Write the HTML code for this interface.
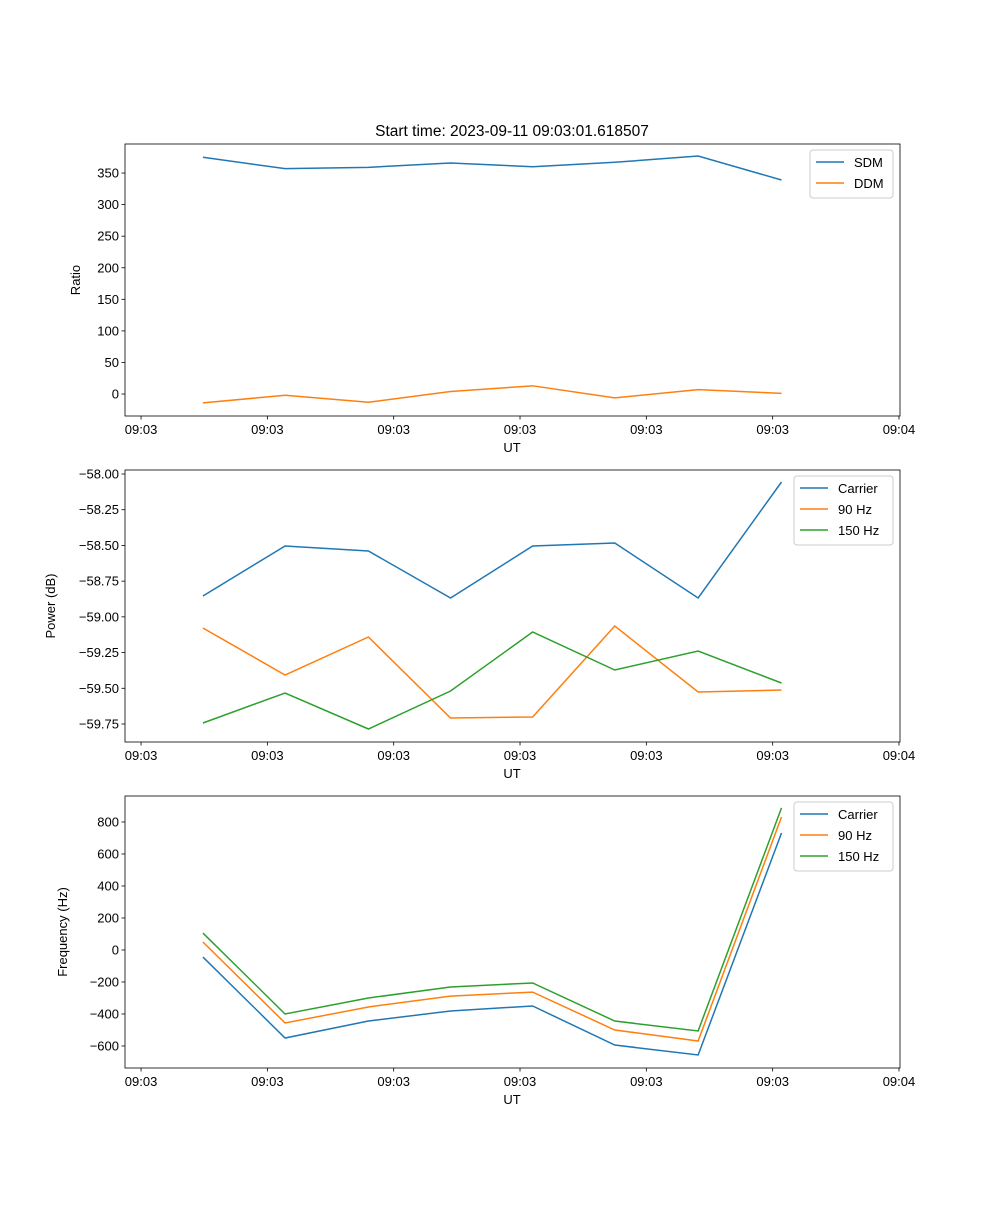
<!DOCTYPE html>
<html><head><meta charset="utf-8"><style>
body{margin:0;background:#fff}
svg text{font-family:"Liberation Sans","DejaVu Sans",sans-serif;font-size:13px;fill:#000}
</style></head><body>
<svg id="fig" width="1000" height="1200" xmlns="http://www.w3.org/2000/svg">
<rect width="1000" height="1200" fill="#fff"/>
<text x="512" y="136" text-anchor="middle" style="font-size:15.5px">Start time: 2023-09-11 09:03:01.618507</text>
</svg>
<script>
const xTickLabels=["09:03","09:03","09:03","09:03","09:03","09:03","09:04"];
const xVals=[0.49,1.14,1.80,2.45,3.10,3.75,4.41,5.07];
const sdm=[375,357,359,366,360,367,377,339];
const ddm=[-14,-2,-13,4,13,-6,7,1];
const pwrCarrier=[-58.854,-58.504,-58.539,-58.868,-58.504,-58.483,-58.868,-58.056];
const pwr90=[-59.078,-59.407,-59.141,-59.708,-59.701,-59.064,-59.526,-59.512];
const pwr150=[-59.743,-59.533,-59.785,-59.519,-59.106,-59.372,-59.239,-59.463];
const frqCarrier=[-44,-550,-444,-381,-350,-594,-656,731];
const frq90=[50,-456,-356,-288,-263,-500,-569,831];
const frq150=[106,-400,-300,-231,-206,-444,-506,888];
const yTicks1=[0,50,100,150,200,250,300,350];
const yTicks2=[-59.75,-59.5,-59.25,-59,-58.75,-58.5,-58.25,-58];
const yTicks3=[-600,-400,-200,0,200,400,600,800];

const NS="http://www.w3.org/2000/svg";
const svg=document.getElementById('fig');
const C=['#1f77b4','#ff7f0e','#2ca02c'];
function mk(tag,attrs,parent){const e=document.createElementNS(NS,tag);for(const k in attrs)e.setAttribute(k,attrs[k]);(parent||svg).appendChild(e);return e;}
const L=125,R=900;
const xMin=-0.127,xMax=6.008;
function xs(v){return L+(v-xMin)/(xMax-xMin)*(R-L);}
function panel(name,top,bot,yMin,yMax,yTicks,fmt,ylabel,ylabelX,series,names,legend){
  const g=mk('g',{});
  
  
  const ys=v=>bot-(v-yMin)/(yMax-yMin)*(bot-top);
  series.forEach((s,i)=>{
    const p=mk('polyline',{points:s.map((v,j)=>xs(xVals[j])+','+ys(v)).join(' '),fill:'none',stroke:C[i],'stroke-width':1.5},g);
    
    
  });
  mk('rect',{x:L,y:top,width:R-L,height:bot-top,fill:'none',stroke:'#000','stroke-width':0.8},g);
  xTickLabels.forEach((t,i)=>{
    const x=xs(i);
    mk('line',{x1:x,x2:x,y1:bot,y2:bot+3.5,stroke:'#000','stroke-width':0.8},g);
    const tx=mk('text',{x:x,y:bot+18,'text-anchor':'middle'},g);tx.textContent=t;
    
    
  });
  const xl=mk('text',{x:512,y:bot+36,'text-anchor':'middle'},g);xl.textContent='UT';
  
  
  yTicks.forEach(v=>{
    const y=ys(v);
    mk('line',{x1:L-3.5,x2:L,y1:y,y2:y,stroke:'#000','stroke-width':0.8},g);
    const tx=mk('text',{x:L-6,y:y+4.5,'text-anchor':'end'},g);tx.textContent=fmt(v);
    
    
  });
  const yl=mk('text',{x:ylabelX,y:(top+bot)/2,'text-anchor':'middle',transform:`rotate(-90 ${ylabelX} ${(top+bot)/2})`},g);yl.textContent=ylabel;
  
  
  const lg=mk('g',{},g);
  
  
  mk('rect',{x:legend.x,y:top+6,width:legend.w,height:names.length*21+6,rx:3,fill:'#fff',stroke:'#ccc','stroke-width':1},lg);
  names.forEach((n,i)=>{
    const y=top+18+i*21;
    mk('line',{x1:legend.x+6,x2:legend.x+34,y1:y,y2:y,stroke:C[i],'stroke-width':1.5},lg);
    const t=mk('text',{x:legend.x+44,y:y+5},lg);t.textContent=n;
    
    
  });
}
const m=v=>(v<0?'\u2212':'')+Math.abs(v);
panel('ratio-panel',144,416,-34.8,396,yTicks1,m,'Ratio',80,[sdm,ddm],['SDM','DDM'],{x:810,w:83});
panel('power-panel',470,742,-59.876,-57.972,yTicks2,v=>'\u2212'+Math.abs(v).toFixed(2),'Power (dB)',55,[pwrCarrier,pwr90,pwr150],['Carrier','90 Hz','150 Hz'],{x:794,w:99});
panel('frequency-panel',796,1068,-737.5,962.5,yTicks3,m,'Frequency (Hz)',67,[frqCarrier,frq90,frq150],['Carrier','90 Hz','150 Hz'],{x:794,w:99});
</script>
</body></html>
